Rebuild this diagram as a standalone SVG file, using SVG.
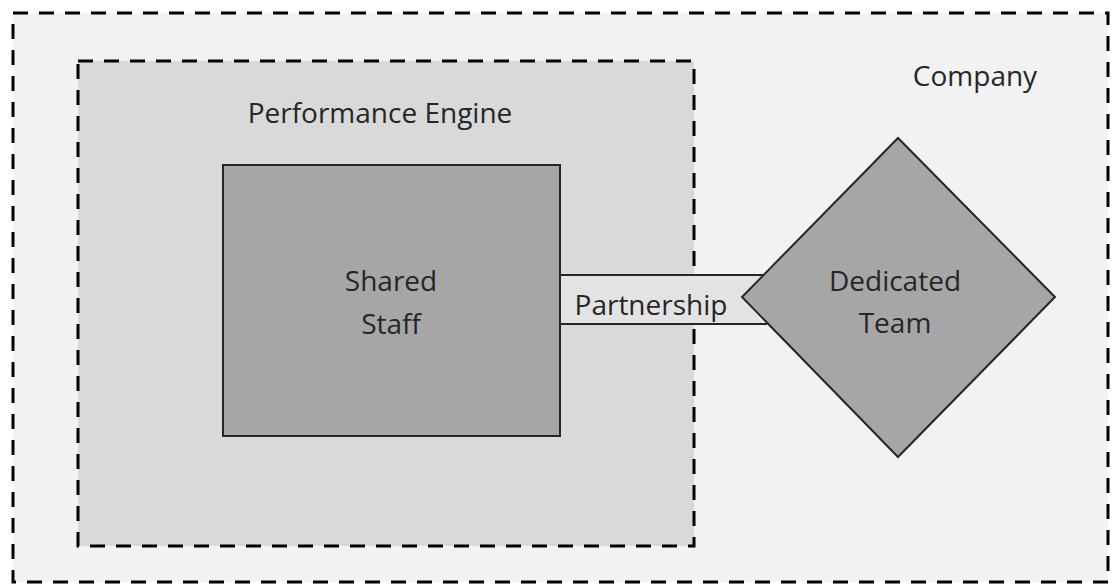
<svg xmlns="http://www.w3.org/2000/svg" width="1112" height="586" viewBox="0 0 1112 586">
<style>
.cont{stroke:#000;stroke-width:3;stroke-dasharray:15 11}
.node{fill:#a6a6a6;stroke:#262626;stroke-width:2}
.t{font-family:"Open Sans","Noto Sans",sans-serif;font-size:28px;fill:#262626;text-anchor:middle}
</style>
<rect width="1112" height="586" fill="#ffffff"/>
<g id="company">
<rect x="13" y="13" width="1095" height="569" fill="#f2f2f2" class="cont"/>
<text class="t" x="975" y="86">Company</text>
</g>
<g id="performance-engine">
<rect x="78" y="61" width="616" height="485" fill="#d9d9d9" class="cont"/>
<text class="t" x="380" y="123">Performance Engine</text>
</g>
<g id="connectors">
<polygon points="560,275 764,275 742,297 764,324 560,324" fill="#e3e3e3" stroke="none"/>
<line x1="560" y1="275" x2="764" y2="275" stroke="#262626" stroke-width="2"/>
<line x1="560" y1="324" x2="767" y2="324" stroke="#262626" stroke-width="2"/>
<text class="t" x="651" y="315">Partnership</text>
</g>
<g id="shared-staff">
<rect x="223" y="165" width="337" height="271" class="node"/>
<text class="t" x="391" y="291">Shared</text>
<text class="t" x="391" y="334">Staff</text>
</g>
<g id="dedicated-team">
<polygon points="898,138 1055,297 898,457 742,297" class="node"/>
<text class="t" x="895" y="291">Dedicated</text>
<text class="t" x="895" y="333">Team</text>
</g>
</svg>
